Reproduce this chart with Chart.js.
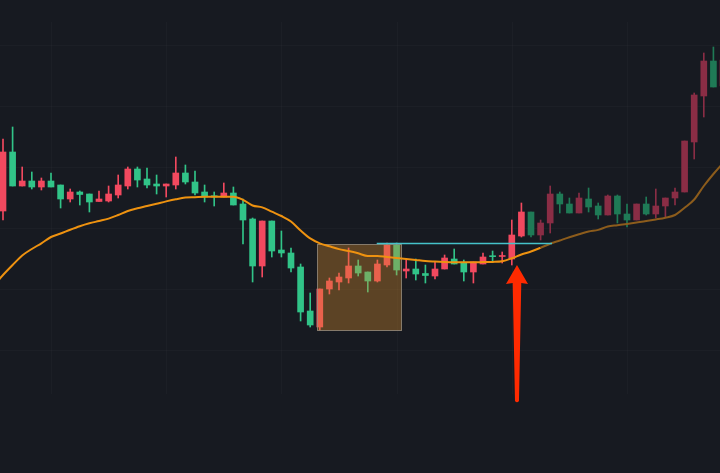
<!DOCTYPE html>
<html>
<head>
<meta charset="utf-8">
<script src="https://cdn.jsdelivr.net/npm/chart.js@4.4.1/dist/chart.umd.min.js"></script>
<style>
  html, body { margin: 0; padding: 0; background: #171a21; }
  #wrap { width: 720px; height: 473px; }
</style>
</head>
<body>
<div id="wrap"><canvas id="myChart" width="720" height="473"></canvas></div>
<script>
// candle prices (open / high / low / close), one per bar
const opens  = [26.2, 32.1, 28.7, 29.2, 28.6, 29.2, 28.8, 27.4, 28.1, 27.9, 27.15, 27.2, 27.8, 28.7, 30.4, 29.4, 28.9, 28.7, 28.8, 30.0,
                29.1, 28.1, 27.73, 27.6, 28.0, 26.9, 25.4, 20.7, 25.2, 22.3, 22.0, 20.6, 16.2, 14.6, 18.4, 19.1, 19.5, 20.7, 20.1, 19.2,
                20.8, 22.8, 20.2, 20.4, 19.95, 19.7, 20.4, 21.4, 21.0, 20.1, 20.9, 21.73, 21.65, 21.4, 23.7, 26.1, 23.8, 25.0, 27.9, 26.9,
                26.0, 27.4, 26.7, 25.8, 27.7, 25.9, 25.3, 26.9, 25.9, 26.7, 27.5, 28.1, 33.1, 37.7, 41.2, 38.7];
const highs  = [33.4, 34.6, 30.6, 30.1, 29.5, 30.0, 28.8, 28.4, 28.2, 27.9, 28.2, 28.7, 29.8, 30.6, 30.6, 30.5, 29.8, 28.9, 31.6, 30.8,
                30.2, 28.8, 28.1, 29.0, 28.6, 27.4, 25.5, 25.2, 25.2, 24.2, 22.5, 20.9, 18.0, 18.4, 19.5, 20.0, 22.5, 21.3, 20.1, 21.3,
                23.0, 23.0, 21.4, 21.4, 20.8, 21.1, 21.8, 22.4, 21.3, 21.1, 22.0, 22.2, 22.1, 25.3, 27.0, 26.1, 25.3, 28.7, 28.1, 27.5,
                28.0, 28.5, 27.0, 27.8, 27.8, 26.9, 26.9, 27.6, 28.4, 27.5, 28.5, 33.2, 38.0, 42.0, 42.6, 41.9];
const lows   = [25.3, 28.7, 28.7, 28.4, 28.3, 28.6, 26.5, 27.1, 26.8, 26.1, 27.15, 27.1, 27.5, 28.4, 28.6, 28.5, 27.9, 27.6, 28.4, 28.9,
                27.8, 27.1, 26.7, 27.6, 26.8, 22.9, 19.1, 19.6, 21.6, 21.6, 20.1, 15.2, 14.6, 14.3, 17.9, 18.3, 19.0, 19.7, 18.1, 19.1,
                20.6, 19.8, 19.5, 19.3, 19.0, 19.4, 20.4, 20.9, 19.2, 19.0, 20.9, 21.1, 21.0, 20.8, 23.6, 23.6, 23.3, 24.0, 26.0, 26.0,
                26.0, 26.1, 25.4, 25.8, 25.0, 24.6, 25.3, 25.8, 25.5, 25.6, 26.8, 28.1, 31.4, 35.6, 38.6, 38.6];
const closes = [32.1, 28.7, 29.2, 28.6, 29.2, 28.6, 27.4, 28.1, 27.85, 27.1, 27.4, 27.9, 28.8, 30.4, 29.3, 28.8, 28.7, 28.9, 30.0, 29.1,
                28.0, 27.6, 27.6, 28.0, 26.8, 25.3, 20.7, 25.2, 22.2, 22.0, 20.5, 16.1, 14.8, 18.4, 19.2, 19.6, 20.7, 20.0, 19.2, 20.9,
                22.8, 20.3, 20.4, 19.9, 19.75, 20.4, 21.5, 20.9, 20.1, 21.1, 21.6, 21.63, 21.7, 23.8, 26.1, 23.8, 25.0, 27.9, 26.9, 26.0,
                27.5, 26.6, 25.8, 27.7, 25.9, 25.3, 26.9, 25.9, 26.7, 27.5, 28.1, 33.2, 37.8, 41.2, 38.6, 41.3];
// moving average, starting one bar before the first visible candle
const ma     = [18.7,
                19.8, 20.8, 21.75, 22.4, 22.97, 23.6, 23.95, 24.33, 24.68, 24.97, 25.2, 25.44, 25.8, 26.2, 26.47, 26.7, 26.93, 27.16, 27.37, 27.54,
                27.58, 27.62, 27.63, 27.63, 27.63, 27.32, 26.75, 26.56, 26.13, 25.7, 25.15, 24.25, 23.46, 22.97, 22.67, 22.39, 22.2, 21.97, 21.7, 21.7,
                21.6, 21.5, 21.4, 21.3, 21.2, 21.15, 21.11, 21.08, 21.07, 21.07, 21.09, 21.11, 21.18, 21.47, 21.85, 22.15, 22.52, 22.93, 23.25, 23.57,
                23.87, 24.15, 24.31, 24.65, 24.78, 24.91, 25.05, 25.19, 25.35, 25.53, 25.8, 26.52, 27.35, 28.7, 29.9, 31.0];

// grid tick values
const gridX = [5, 17, 29, 41, 53, 65];
const gridY = [42.8, 36.7, 30.6, 24.5, 18.4, 12.3];

// marked zone, resistance line and arrow (in data units)
const zone = { x0: 32.74, x1: 41.53, top: 22.87, bottom: 14.23 };
const level = { x0: 38.93, x1: 57.19, price: 22.97 };
const arrow = { x: 53.54, tip: 20.8, tail: 7.1 };

const fadeFrom = 55; // candles after this are drawn dimmer

function candleColor(i) {
    var up = closes[i] >= opens[i];
    if (i >= fadeFrom) return up ? '#8a2d45' : '#1f7a56';
    return up ? '#f2495f' : '#31c488';
}

var wicks = [], bodies = [], maPts = [], colors = [];
for (let i = 0; i < opens.length; i++) {
    wicks.push({ x: i, y: [lows[i], highs[i]] });
    bodies.push({ x: i, y: [opens[i], closes[i]] });
    colors.push(candleColor(i));
}
for (let i = 0; i < ma.length; i++) {
    maPts.push({ x: i - 1, y: ma[i] });
}

const overlay = {
    id: 'overlay',
    beforeDatasetsDraw(chart) {
        const { ctx, scales: { x, y } } = chart;
        ctx.save();
        ctx.strokeStyle = 'rgba(255,255,255,0.025)';
        ctx.lineWidth = 1;
        gridX.forEach(v => {
            var px = Math.round(x.getPixelForValue(v)) + 0.5;
            ctx.beginPath(); ctx.moveTo(px, 22); ctx.lineTo(px, 394); ctx.stroke();
        });
        gridY.forEach(v => {
            var py = Math.round(y.getPixelForValue(v)) + 0.5;
            ctx.beginPath(); ctx.moveTo(0, py); ctx.lineTo(720, py); ctx.stroke();
        });
        ctx.restore();
    },
    afterDatasetDraw(chart, args) {
        if (args.index !== 1) return;
        const { ctx, scales: { x, y } } = chart;
        var l = x.getPixelForValue(zone.x0), r = x.getPixelForValue(zone.x1);
        var t = y.getPixelForValue(zone.top), b = y.getPixelForValue(zone.bottom);
        ctx.save();
        ctx.fillStyle = 'rgba(215,140,45,0.36)';
        ctx.fillRect(l, t, r - l, b - t);
        ctx.strokeStyle = 'rgba(150,140,125,0.8)';
        ctx.lineWidth = 1;
        ctx.strokeRect(Math.round(l) + 0.5, Math.round(t) + 0.5, Math.round(r - l), Math.round(b - t));
        ctx.restore();
    },
    afterDatasetsDraw(chart) {
        const { ctx, scales: { x, y } } = chart;
        ctx.save();
        // resistance line
        var ly = Math.round(y.getPixelForValue(level.price)) + 0.5;
        ctx.strokeStyle = '#45c2ca';
        ctx.lineWidth = 1.3;
        ctx.beginPath();
        ctx.moveTo(x.getPixelForValue(level.x0), ly);
        ctx.lineTo(x.getPixelForValue(level.x1), ly);
        ctx.stroke();
        // arrow
        var ax = x.getPixelForValue(arrow.x);
        var tip = y.getPixelForValue(arrow.tip);
        var tail = y.getPixelForValue(arrow.tail);
        var headH = 19, headW = 11;
        ctx.fillStyle = '#ff2a00';
        ctx.beginPath();
        ctx.moveTo(ax, tip);
        ctx.lineTo(ax + headW, tip + headH);
        ctx.lineTo(ax + 4.3, tip + headH - 1);
        ctx.lineTo(ax + 2, tail - 1);
        ctx.quadraticCurveTo(ax, tail + 1.5, ax - 2, tail - 1);
        ctx.lineTo(ax - 4.3, tip + headH - 1);
        ctx.lineTo(ax - headW, tip + headH);
        ctx.closePath();
        ctx.fill();
        ctx.restore();
    }
};

const config = {
    type: 'bar',
    data: {
        datasets: [
            {
                label: 'wick',
                data: wicks,
                backgroundColor: colors,
                barThickness: 1,
                grouped: false,
                order: 2
            },
            {
                label: 'body',
                data: bodies,
                backgroundColor: colors,
                barThickness: 6,
                minBarLength: 1,
                grouped: false,
                order: 1
            },
            {
                type: 'line',
                label: 'MA',
                data: maPts,
                borderColor: '#ee9210',
                borderWidth: 2,
                pointRadius: 0,
                cubicInterpolationMode: 'monotone',
                segment: {
                    borderColor: c => c.p0DataIndex >= fadeFrom + 2 ? '#8c5c1c' : '#ee9210'
                },
                order: 0
            }
        ]
    },
    options: {
        responsive: false,
        animation: false,
        devicePixelRatio: 1,
        layout: { padding: 0 },
        plugins: { legend: { display: false }, tooltip: { enabled: false } },
        scales: {
            x: { type: 'linear', display: false, min: -0.3125, max: 74.6875, offset: false },
            y: { display: false, min: 0, max: 47.3 }
        }
    },
    plugins: [overlay]
};

var ctx = document.getElementById('myChart').getContext('2d');
new Chart(ctx, config);
</script>
</body>
</html>
